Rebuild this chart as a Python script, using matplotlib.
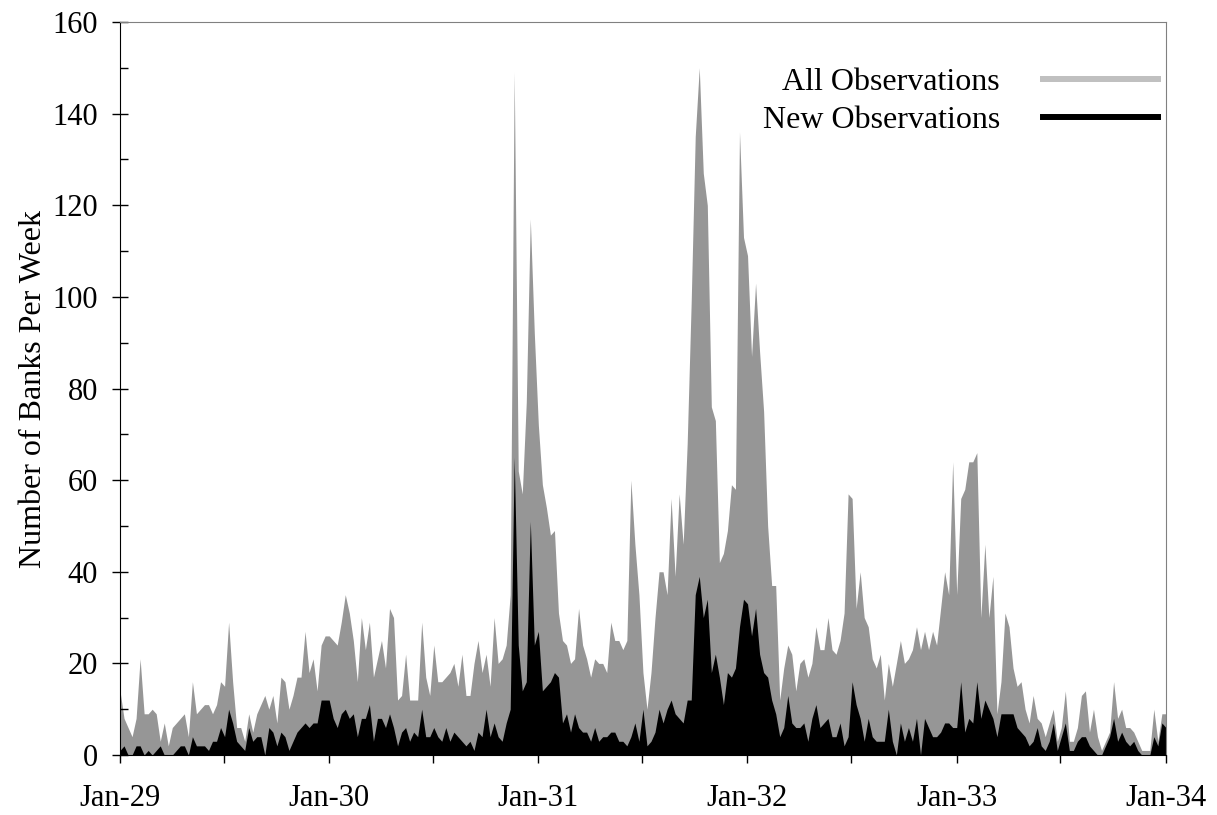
import matplotlib
matplotlib.use('Agg')
import matplotlib.pyplot as plt
import matplotlib.dates as mdates
from matplotlib.lines import Line2D
from matplotlib.ticker import MultipleLocator
import numpy as np
import pandas as pd

# ── Data: weekly bank counts ─────────────────────────────────────────────────

all_1929 = [14, 8, 6, 4, 8, 21, 9, 9, 10, 9, 3, 7, 2, 6, 7, 8, 9, 4, 16, 9,
            10, 11, 11, 9, 11, 16, 15, 29, 16, 6, 6, 3, 9, 5, 9, 11, 13, 10, 13, 7,
            17, 16, 10, 13, 17, 17, 27, 18, 21, 14, 24, 26]
all_1930 = [26, 25, 24, 29, 35, 31, 25, 16, 30, 23, 29, 17, 21, 25, 19, 32, 30, 12, 13, 22,
            12, 12, 12, 29, 17, 13, 24, 16, 16, 17, 18, 20, 15, 22, 13, 13, 20, 25, 18, 22,
            15, 30, 20, 21, 24, 35, 149, 62, 57, 77, 117, 92]
all_1931 = [72, 59, 54, 48, 49, 31, 25, 24, 20, 21, 32, 24, 21, 17, 21, 20, 20, 18, 29, 25,
            25, 23, 25, 60, 46, 35, 18, 10, 18, 30, 40, 40, 35, 56, 39, 57, 46, 68, 99, 135,
            150, 127, 120, 76, 73, 42, 44, 49, 59, 58, 136, 113]
all_1932 = [109, 87, 103, 88, 75, 50, 37, 37, 12, 19, 24, 22, 14, 20, 21, 17, 20, 28, 23, 23,
            30, 23, 22, 25, 31, 57, 56, 32, 40, 30, 28, 21, 19, 22, 12, 20, 15, 20, 25, 20,
            21, 23, 28, 23, 27, 23, 27, 24, 32, 40, 35, 64]
all_1933 = [35, 56, 58, 64, 64, 66, 30, 46, 30, 39, 9, 16, 31, 28, 19, 15, 16, 10, 7, 13,
            8, 7, 4, 7, 10, 3, 6, 14, 3, 3, 6, 13, 14, 5, 10, 4, 1, 3, 5, 16,
            8, 10, 6, 6, 5, 3, 1, 1, 1, 10, 3, 9, 9]

new_1929 = [1, 2, 0, 0, 2, 2, 0, 1, 0, 1, 2, 0, 0, 0, 1, 2, 2, 0, 4, 2,
            2, 2, 1, 3, 3, 6, 4, 10, 7, 3, 2, 1, 6, 3, 4, 4, 0, 6, 5, 2,
            5, 4, 1, 3, 5, 6, 7, 6, 7, 7, 12, 12]
new_1930 = [12, 8, 6, 9, 10, 8, 9, 4, 8, 8, 11, 3, 8, 8, 6, 9, 6, 2, 5, 6,
            3, 5, 4, 10, 4, 4, 6, 4, 3, 6, 3, 5, 4, 3, 2, 3, 1, 5, 4, 10,
            4, 7, 4, 3, 7, 10, 65, 24, 14, 16, 51, 24]
new_1931 = [27, 14, 15, 16, 18, 17, 7, 9, 5, 9, 6, 5, 5, 3, 6, 3, 4, 4, 5, 5,
            3, 3, 2, 4, 7, 3, 10, 2, 3, 5, 10, 7, 10, 12, 9, 8, 7, 12, 12, 35,
            39, 30, 34, 18, 22, 17, 11, 18, 17, 19, 28, 34]
new_1932 = [33, 26, 32, 22, 18, 17, 12, 9, 4, 6, 13, 7, 6, 6, 7, 3, 8, 11, 6, 7,
            8, 4, 4, 7, 2, 4, 16, 11, 8, 3, 8, 4, 3, 3, 3, 10, 3, 0, 7, 3,
            6, 3, 8, 0, 8, 6, 4, 4, 5, 7, 7, 6]
new_1933 = [6, 16, 5, 8, 7, 16, 8, 12, 10, 8, 4, 9, 9, 9, 9, 6, 5, 4, 2, 3,
            6, 2, 1, 3, 7, 1, 4, 7, 1, 1, 3, 4, 4, 2, 1, 0, 0, 2, 4, 8,
            3, 5, 3, 2, 3, 1, 0, 0, 0, 4, 2, 7, 6]

all_obs = np.array(all_1929 + all_1930 + all_1931 + all_1932 + all_1933)
new_obs = np.array(new_1929 + new_1930 + new_1931 + new_1932 + new_1933)
weeks = pd.date_range('1929-01-01', '1934-01-01', periods=len(all_obs))

# ── Style ────────────────────────────────────────────────────────────────────

FILL_ALL = '#969696'
LEG_ALL = '#c0c0c0'
FRAME = '#808080'
plt.rcParams.update({
    'font.family': ['Liberation Serif', 'DejaVu Serif'],
    'font.size': 22,
})

fig = plt.figure(figsize=(12.17, 8.15), dpi=100)
ax = fig.add_axes([0.0986, 0.0736, 0.8594, 0.8994])

ax.fill_between(weeks, all_obs, 0, color=FILL_ALL, linewidth=0)
ax.fill_between(weeks, new_obs, 0, color='black', linewidth=0)

ax.set_xlim(pd.Timestamp('1929-01-01'), pd.Timestamp('1934-01-01'))
ax.set_ylim(0, 160)
ax.yaxis.set_major_locator(MultipleLocator(20))
ax.yaxis.set_minor_locator(MultipleLocator(10))
ax.xaxis.set_major_locator(mdates.YearLocator())
ax.xaxis.set_minor_locator(mdates.MonthLocator(bymonth=7))
ax.xaxis.set_major_formatter(mdates.DateFormatter('%b-%y'))

ax.tick_params(axis='y', which='major', direction='inout', length=11.5, width=1,
               labelsize=22, pad=10)
ax.tick_params(axis='y', which='minor', direction='in', length=5.8, width=1)
ax.tick_params(axis='x', which='both', direction='out', length=5.8, width=1)
ax.tick_params(axis='x', which='major', labelsize=22, pad=15)

ax.spines['top'].set_color(FRAME)
ax.spines['right'].set_color(FRAME)

ax.set_ylabel('Number of Banks Per Week', fontsize=23, labelpad=3)

handles = [Line2D([], [], color=LEG_ALL, lw=4.3),
           Line2D([], [], color='black', lw=4.3)]
ax.legend(handles, ['All Observations', 'New Observations'], loc='upper right',
          bbox_to_anchor=(0.9924, 0.938), markerfirst=False, frameon=False,
          fontsize=23, handlelength=3.6, handletextpad=1.35, labelspacing=0.28,
          borderaxespad=0.0, borderpad=0.0)

fig.savefig('out.png', dpi=100)
